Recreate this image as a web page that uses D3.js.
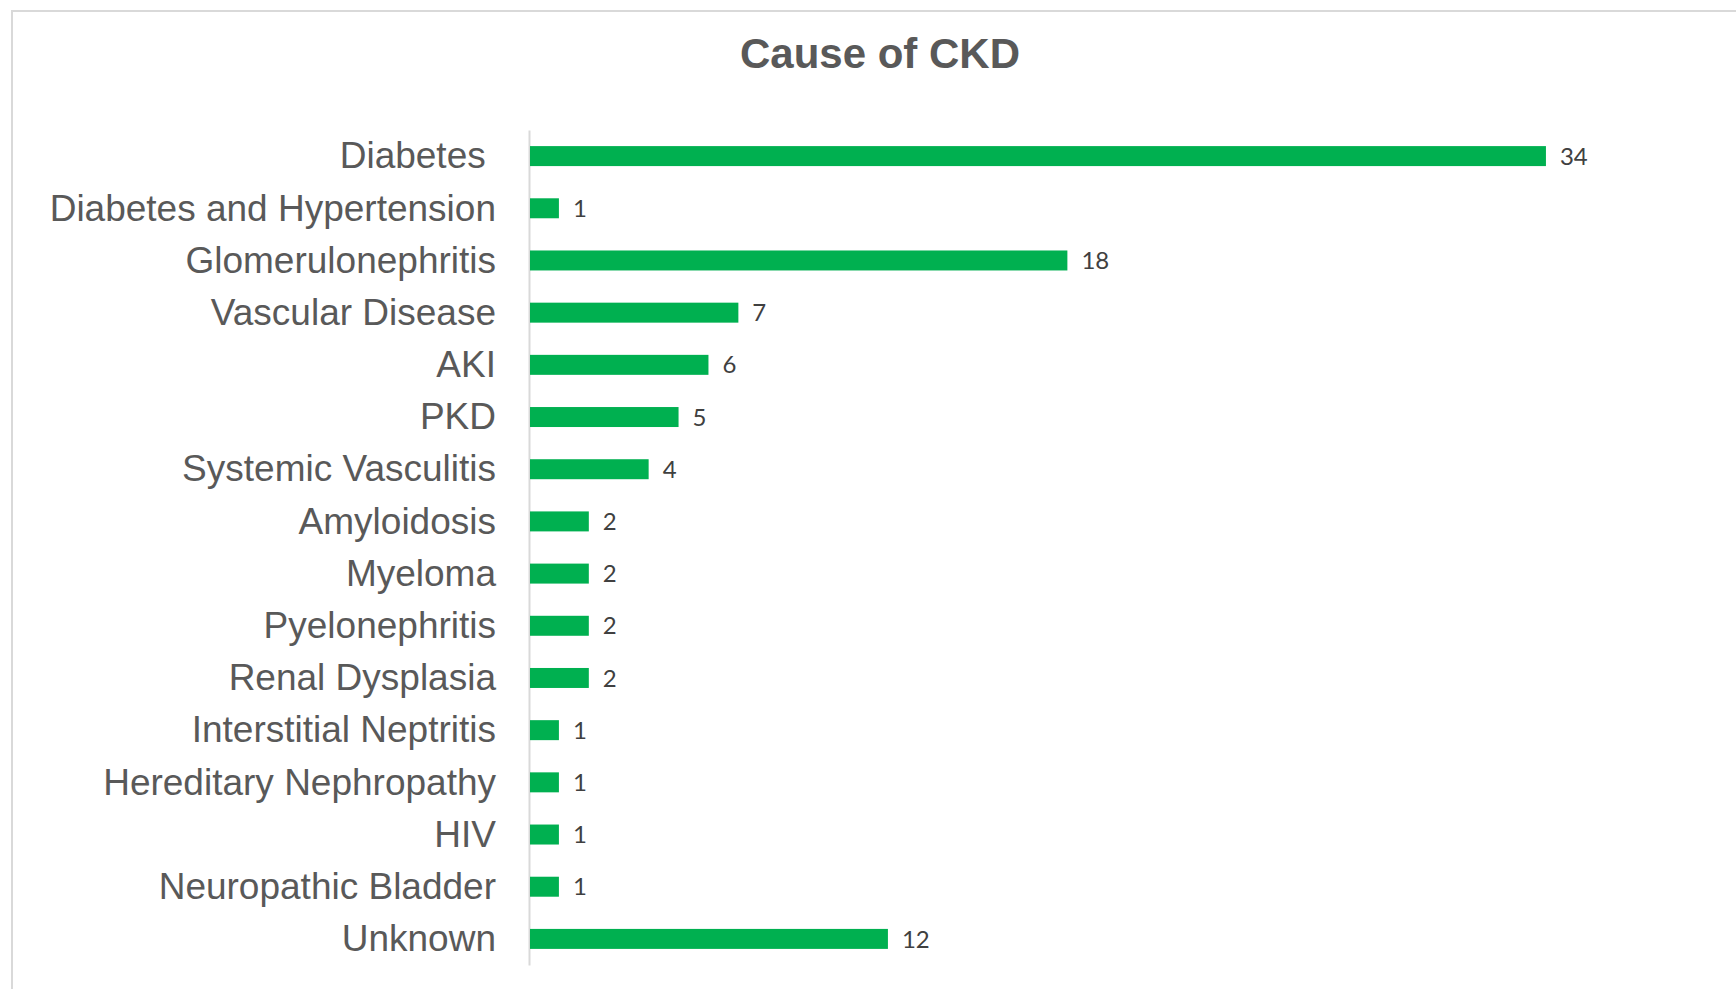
<!DOCTYPE html>
<html>
<head>
<meta charset="utf-8">
<script src="https://cdn.jsdelivr.net/npm/d3@7"></script>
<style>
  html, body { margin: 0; padding: 0; background: #fff; }
  svg { display: block; }
</style>
</head>
<body>
<svg id="chart" width="1736" height="989"></svg>
<script>
// Causes of chronic kidney disease, patient counts
const causes = [
  "Diabetes ",
  "Diabetes and Hypertension",
  "Glomerulonephritis",
  "Vascular Disease",
  "AKI",
  "PKD",
  "Systemic Vasculitis",
  "Amyloidosis",
  "Myeloma",
  "Pyelonephritis",
  "Renal Dysplasia",
  "Interstitial Neptritis",
  "Hereditary Nephropathy",
  "HIV",
  "Neuropathic Bladder",
  "Unknown"
];
const counts = [34, 1, 18, 7, 6, 5, 4, 2, 2, 2, 2, 1, 1, 1, 1, 12];
const chartTitle = "Cause of CKD";

const rows = causes.map((c, i) => ({ cause: c, count: counts[i] }));

const svg = d3.select("#chart");

// outer chart frame
svg.append("rect")
  .attr("x", 12).attr("y", 11)
  .attr("width", 1760).attr("height", 1000)
  .attr("fill", "#fff")
  .attr("stroke", "#d9d9d9")
  .attr("stroke-width", 2);

svg.append("text")
  .attr("x", 880).attr("y", 68)
  .attr("text-anchor", "middle")
  .attr("font-family", "Liberation Sans, Arial, sans-serif")
  .attr("font-weight", "bold")
  .attr("font-size", 42)
  .attr("fill", "#595959")
  .text(chartTitle);

const axisX = 529;
const x = d3.scaleLinear().domain([0, 35]).range([axisX, axisX + 35 * 29.91]);
const y = d3.scaleBand()
  .domain(causes)
  .range([130, 965])
  .paddingInner(0.617)
  .paddingOuter(0.3085);

// category axis
const yAxis = d3.axisLeft(y).tickSize(0).tickPadding(33);
const gy = svg.append("g")
  .attr("transform", `translate(${axisX},0)`)
  .call(yAxis);
gy.select(".domain").attr("stroke", "#d9d9d9").attr("stroke-width", 2);
gy.selectAll(".tick text")
  .attr("font-family", "Liberation Sans, Arial, sans-serif")
  .attr("font-size", 37)
  .attr("fill", "#595959")
  .attr("dy", "0.33em")
  .style("white-space", "pre");

// bars
svg.append("g").selectAll("rect")
  .data(rows)
  .join("rect")
  .attr("x", x(0) + 1)
  .attr("y", d => y(d.cause))
  .attr("width", d => x(d.count) - x(0) - 1)
  .attr("height", y.bandwidth())
  .attr("fill", "#00b050");

// value labels
svg.append("g").selectAll("text")
  .data(rows)
  .join("text")
  .attr("x", d => x(d.count) + 14)
  .attr("y", d => y(d.cause) + y.bandwidth() / 2)
  .attr("dy", "0.36em")
  .attr("font-family", "Lato, sans-serif")
  .attr("font-size", 24)
  .attr("fill", "#404040")
  .text(d => d.count);
</script>
</body>
</html>
